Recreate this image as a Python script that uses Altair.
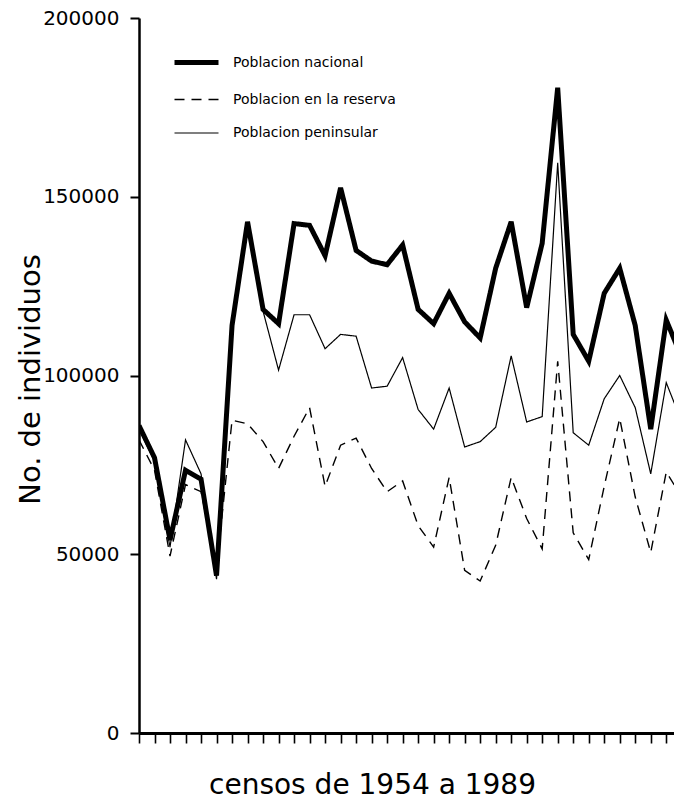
import altair as alt
import pandas as pd

# Censos anuales, 1954-1989
years = list(range(1954, 1990))

nacional = [86000, 77000, 54000, 73500, 71000, 44000, 114000, 143000, 118500,
            114500, 142500, 142000, 133500, 152500, 135000, 132000, 131000,
            136500, 118500, 114500, 123000, 115000, 110500, 130000, 143000,
            119000, 137000, 180500, 111500, 104000, 123000, 130000, 114000,
            85000, 115500, 105000]

reserva = [82000, 73500, 49500, 69500, 67500, 46000, 87500, 86500, 81500,
           74000, 83000, 91000, 69000, 80500, 82500, 74000, 67500, 70500,
           58000, 52000, 71500, 45500, 42500, 52500, 71500, 60000, 51500,
           104000, 56000, 48500, 69000, 88000, 66000, 50500, 73000, 66000]

peninsular = [85000, 76000, 52000, 82000, 72500, 43000, 114000, 142500, 118000,
              101500, 117000, 117000, 107500, 111500, 111000, 96500, 97000,
              105000, 90500, 85000, 96500, 80000, 81500, 85500, 105500, 87000,
              88500, 159500, 84000, 80500, 93500, 100000, 91000, 72500, 98000,
              87000]

series = ["Poblacion nacional", "Poblacion en la reserva", "Poblacion peninsular"]
y_ticks = [0, 50000, 100000, 150000, 200000]

rows = []
for name, vals in zip(series, [nacional, reserva, peninsular]):
    for yr, v in zip(years, vals):
        rows.append({"censo": yr, "individuos": v, "serie": name})
df = pd.DataFrame(rows)

legend_opts = dict(orient="none", legendX=33, legendY=20, title=None,
                   symbolType="stroke", symbolSize=1936,
                   symbolStrokeColor="black", labelFont="DejaVu Sans",
                   labelFontSize=14, labelColor="black", labelOffset=12,
                   labelLimit=400, rowPadding=3.5, padding=0)

lines = alt.Chart(df).mark_line(clip=True, color="black", strokeCap="butt",
                                strokeJoin="miter").encode(
    x=alt.X("censo:Q",
            scale=alt.Scale(domain=[1954, 1988.5], nice=False, zero=False),
            axis=alt.Axis(values=years[:-1], labels=False, grid=False,
                          tickSize=10, tickWidth=1.6, tickColor="black",
                          domainColor="black", domainWidth=3,
                          title="censos de 1954 a 1989",
                          titleFont="DejaVu Sans", titleFontSize=28,
                          titleFontWeight="normal", titleColor="black",
                          titleX=233, titleY=52, titleAlign="center",
                          titleBaseline="middle")),
    y=alt.Y("individuos:Q",
            scale=alt.Scale(domain=[0, 200000], nice=False),
            axis=alt.Axis(values=y_ticks, grid=False, tickSize=9, tickWidth=2,
                          tickColor="black", domainColor="black",
                          domainWidth=2.5, format="d", labelFont="DejaVu Sans",
                          labelFontSize=20, labelColor="black", labelPadding=11,
                          title="No. de individuos",
                          titleFont="DejaVu Sans", titleFontSize=29,
                          titleFontWeight="normal", titleColor="black",
                          titleAngle=270, titleAlign="center",
                          titleBaseline="middle", titleX=-109, titleY=361)),
    detail="serie:N",
    strokeWidth=alt.StrokeWidth(
        "serie:N",
        scale=alt.Scale(type="ordinal", domain=series, range=[5, 1.4, 1.2]),
        legend=alt.Legend(**legend_opts)),
    strokeDash=alt.StrokeDash(
        "serie:N",
        scale=alt.Scale(domain=series, range=[[1, 0], [10, 7], [1, 0]]),
        legend=alt.Legend(**legend_opts)),
)

chart = lines.properties(
    width=535, height=715,
    autosize=alt.AutoSizeParams(type="none"),
    padding={"left": 139, "top": 18, "right": 0, "bottom": 72},
    background="white",
).configure_view(stroke=None)

chart.save("out.html", embed_options={"renderer": "svg", "actions": False})
